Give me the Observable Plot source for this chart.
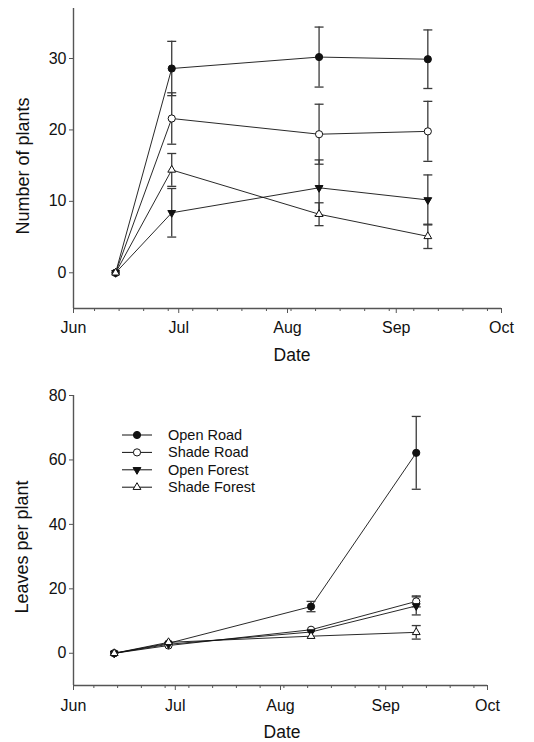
<!DOCTYPE html>
<html><head><meta charset="utf-8">
<script src="https://cdn.jsdelivr.net/npm/d3@7"></script>
<script src="https://cdn.jsdelivr.net/npm/@observablehq/plot@0.6"></script>
<style>
body{margin:0;background:#fff;}
#chart svg{display:block;}
</style>
</head><body><div id="chart"></div>
<script>
// ---------- data ----------
const series = ["Open Road", "Shade Road", "Open Forest", "Shade Forest"];
const sampleDates = ["2009-06-13", "2009-06-29", "2009-08-10", "2009-09-10"];
const monthTickDates = ["2009-06-01", "2009-07-01", "2009-08-01", "2009-09-01", "2009-10-01"];
const monthTickLabels = ["Jun", "Jul", "Aug", "Sep", "Oct"];

// Number of plants (mean, error)
const plantsOpenRoad = [0, 28.6, 30.2, 29.9];
const plantsOpenRoadErr = [0, 3.8, 4.2, 4.1];
const plantsShadeRoad = [0, 21.6, 19.4, 19.8];
const plantsShadeRoadErr = [0, 3.6, 4.2, 4.2];
const plantsOpenForest = [0, 8.4, 11.9, 10.2];
const plantsOpenForestErr = [0, 3.4, 3.9, 3.5];
const plantsShadeForest = [0, 14.4, 8.2, 5.1];
const plantsShadeForestErr = [0, 2.3, 1.6, 1.7];
const plantsTicks = [0, 10, 20, 30];
const plantsDomain = [-5, 37];

// Leaves per plant (mean, error)
const leavesOpenRoad = [0, 3.1, 14.5, 62.2];
const leavesOpenRoadErr = [0, 0, 1.6, 11.3];
const leavesShadeRoad = [0, 2.4, 7.3, 16.1];
const leavesShadeRoadErr = [0, 0, 0, 1.7];
const leavesOpenForest = [0, 2.8, 6.6, 14.7];
const leavesOpenForestErr = [0, 0, 0, 2.8];
const leavesShadeForest = [0, 3.4, 5.3, 6.5];
const leavesShadeForestErr = [0, 0, 0, 2.1];
const leavesTicks = [0, 20, 40, 60, 80];
const leavesDomain = [-10, 80];

// ---------- helpers ----------
const parse = s => new Date(s + "T00:00:00Z");
function table(valuesList, errList) {
  const rows = [];
  series.forEach((s, si) => {
    sampleDates.forEach((d, i) => {
      rows.push({series: s, date: parse(d), value: valuesList[si][i], err: errList[si][i]});
    });
  });
  return rows;
}
const plantsData = table(
  [plantsOpenRoad, plantsShadeRoad, plantsOpenForest, plantsShadeForest],
  [plantsOpenRoadErr, plantsShadeRoadErr, plantsOpenForestErr, plantsShadeForestErr]);
const leavesData = table(
  [leavesOpenRoad, leavesShadeRoad, leavesOpenForest, leavesShadeForest],
  [leavesOpenRoadErr, leavesShadeRoadErr, leavesOpenForestErr, leavesShadeForestErr]);

const monthDates = monthTickDates.map(parse);
const weekDates = d3.utcSunday.range(monthDates[0], monthDates[monthDates.length - 1]);
const monthLabel = d => monthTickLabels[monthDates.findIndex(m => +m === +d)];

const FONT = "'Liberation Sans', Arial, Helvetica, sans-serif";
const AXIS = "#555";
const INK = "#111";
const ERR = "#3a3a3a";

const capSymbol = {
  draw(ctx, size) {
    const r = Math.sqrt(size / Math.PI);
    ctx.moveTo(-r, 0); ctx.lineTo(r, 0);
  }
};

const markerStyle = {
  "Open Road": {symbol: "circle", r: 3.6, fill: INK},
  "Shade Road": {symbol: "circle", r: 3.6, fill: "#fff"},
  "Open Forest": {symbol: "triangle", r: 2.9, fill: INK, rotate: 180},
  "Shade Forest": {symbol: "triangle", r: 2.9, fill: "#fff", rotate: 0}
};

function chart({data, yDomain, yTicks, height, marginTop, marginBottom, marginRight, tickPad}) {
  const x0 = monthDates[0], x1 = monthDates[monthDates.length - 1];
  const errData = data.filter(d => d.err > 0);
  const marks = [
    Plot.ruleX([x0], {stroke: AXIS, strokeWidth: 1.4}),
    Plot.ruleY([yDomain[0]], {stroke: AXIS, strokeWidth: 1.4}),
    Plot.axisY({ticks: yTicks, tickSize: 4, tickPadding: 3, stroke: AXIS, fill: INK, label: null}),
    Plot.axisX({ticks: weekDates, tickSize: 3, tickFormat: () => "", stroke: AXIS, label: null}),
    Plot.axisX({ticks: monthDates, tickSize: 5, tickPadding: tickPad, tickFormat: monthLabel, stroke: AXIS, fill: INK, label: null}),
    Plot.line(data, {x: "date", y: "value", z: "series", stroke: INK, strokeWidth: 0.9}),
    Plot.ruleX(errData, {x: "date", y1: d => d.value - d.err, y2: d => d.value + d.err, stroke: ERR, strokeWidth: 1.3}),
    Plot.dot(errData, {x: "date", y: d => d.value + d.err, symbol: capSymbol, r: 4.5, stroke: ERR, strokeWidth: 1.3, fill: "none"}),
    Plot.dot(errData, {x: "date", y: d => d.value - d.err, symbol: capSymbol, r: 4.5, stroke: ERR, strokeWidth: 1.3, fill: "none"})
  ];
  series.forEach(s => {
    const st = markerStyle[s];
    marks.push(Plot.dot(data.filter(d => d.series === s), {
      x: "date", y: "value", symbol: st.symbol, r: st.r, fill: st.fill, stroke: INK, strokeWidth: 1, rotate: st.rotate || 0
    }));
  });
  return Plot.plot({
    width: 534, height, marginLeft: 73, marginRight, marginTop, marginBottom,
    style: {fontFamily: FONT, fontSize: "16px", color: INK, background: "#fff", overflow: "visible"},
    x: {type: "utc", domain: [x0, x1]},
    y: {domain: yDomain},
    marks
  });
}

function addTitles(svg, yLabel, yx, yy, dateX, dateY) {
  const s = d3.select(svg);
  s.append("text").attr("transform", `translate(${yx},${yy}) rotate(-90)`)
    .attr("text-anchor", "middle").attr("dominant-baseline", "central")
    .style("font-family", FONT).style("font-size", "18px").attr("fill", INK).text(yLabel);
  s.append("text").attr("x", dateX).attr("y", dateY)
    .attr("text-anchor", "middle").attr("dominant-baseline", "central")
    .style("font-family", FONT).style("font-size", "17.5px").attr("fill", INK).text("Date");
}

const topChart = chart({data: plantsData, yDomain: plantsDomain, yTicks: plantsTicks,
  height: 370, marginTop: 8, marginBottom: 62, marginRight: 33, tickPad: 8});
addTitles(topChart, "Number of plants", 23, 166, 292, 355);

const bottomChart = chart({data: leavesData, yDomain: leavesDomain, yTicks: leavesTicks,
  height: 372, marginTop: 25, marginBottom: 57, marginRight: 47, tickPad: 9});
addTitles(bottomChart, "Leaves per plant", 22, 177, 282, 362);

// legend inside bottom chart
{
  const s = d3.select(bottomChart);
  const g = s.append("g").attr("transform", "translate(122,65)").attr("text-anchor", "start");
  series.forEach((name, i) => {
    const st = markerStyle[name];
    const row = g.append("g").attr("transform", `translate(0,${i * 17.4})`);
    row.append("line").attr("x1", 0).attr("x2", 30).attr("y1", 0).attr("y2", 0)
      .attr("stroke", INK).attr("stroke-width", 1);
    const sym = st.symbol === "circle" ? d3.symbolCircle : d3.symbolTriangle;
    row.append("path").attr("d", d3.symbol(sym, st.r * st.r * Math.PI)())
      .attr("transform", `translate(15,0) rotate(${st.rotate || 0})`)
      .attr("fill", st.fill).attr("stroke", INK).attr("stroke-width", 1);
    row.append("text").attr("x", 46).attr("y", 0).attr("dominant-baseline", "central")
      .attr("text-anchor", "start")
      .style("font-family", FONT).style("font-size", "14.5px").attr("fill", INK).text(name);
  });
}

document.getElementById("chart").append(topChart, bottomChart);
</script>
</body></html>
